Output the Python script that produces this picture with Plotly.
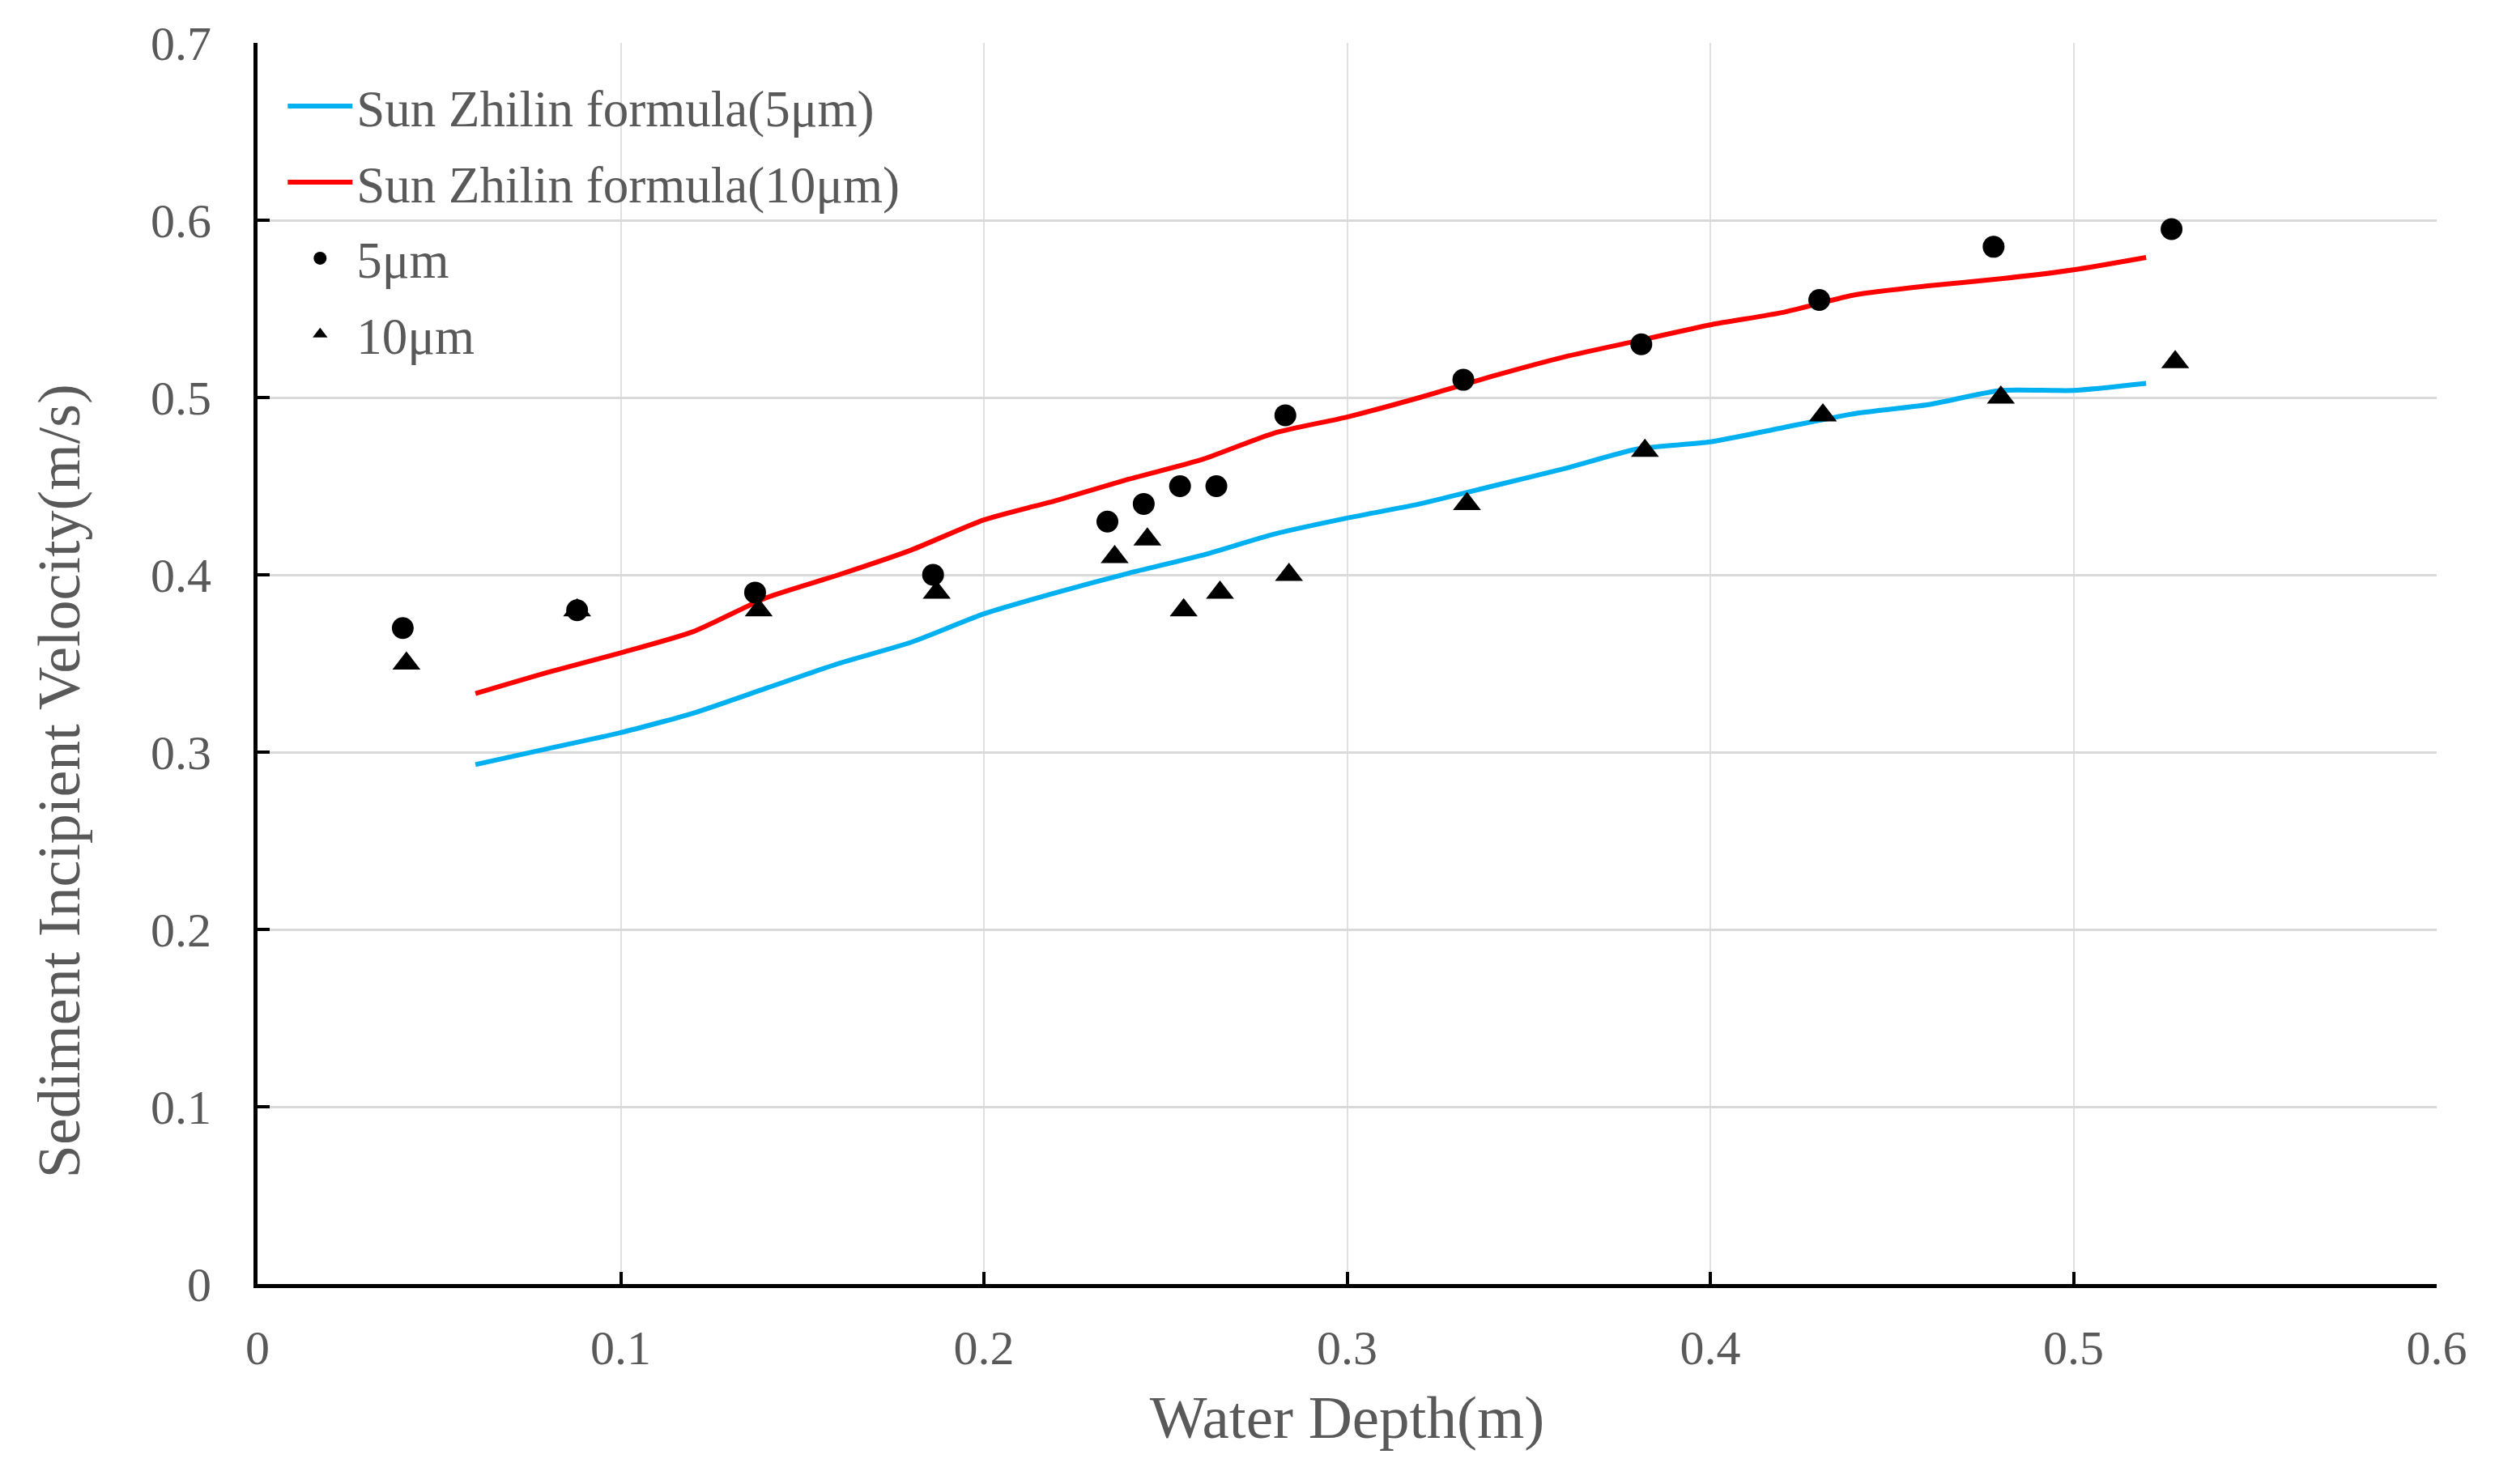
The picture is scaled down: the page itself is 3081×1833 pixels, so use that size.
import plotly.graph_objects as go

# formula curves (Sun Zhilin)
depth_line = [0.06, 0.08, 0.10, 0.12, 0.14, 0.16, 0.18, 0.20, 0.22, 0.24, 0.26, 0.28,
              0.30, 0.32, 0.34, 0.36, 0.38, 0.40, 0.42, 0.44, 0.46, 0.48, 0.50, 0.52]
v_5um_line = [0.293, 0.302, 0.311, 0.322, 0.336, 0.350, 0.362, 0.378, 0.390, 0.401, 0.411, 0.423,
              0.432, 0.440, 0.450, 0.460, 0.471, 0.475, 0.483, 0.491, 0.496, 0.504, 0.504, 0.508]
v_10um_line = [0.333, 0.345, 0.356, 0.368, 0.387, 0.400, 0.414, 0.431, 0.442, 0.454, 0.465, 0.480,
               0.489, 0.500, 0.512, 0.523, 0.532, 0.541, 0.548, 0.558, 0.563, 0.567, 0.572, 0.579]

# measured points
depth_5um = [0.040, 0.088, 0.137, 0.186, 0.234, 0.244, 0.254, 0.264, 0.283, 0.332, 0.381, 0.430, 0.478, 0.527]
v_5um = [0.37, 0.38, 0.39, 0.40, 0.43, 0.44, 0.45, 0.45, 0.49, 0.51, 0.53, 0.555, 0.585, 0.595]
depth_10um = [0.041, 0.088, 0.138, 0.187, 0.236, 0.245, 0.255, 0.265, 0.284, 0.333, 0.382, 0.431, 0.480, 0.528]
v_10um = [0.35, 0.38, 0.38, 0.39, 0.41, 0.42, 0.38, 0.39, 0.40, 0.44, 0.47, 0.49, 0.50, 0.52]

font_name = "Liberation Serif"
grey = "#595959"

fig = go.Figure()
fig.add_trace(go.Scatter(x=depth_line, y=v_5um_line, mode="lines", name="Sun Zhilin formula(5μm)",
                         legendgroup="a",
                         line=dict(color="#00B0F0", width=6, shape="spline", smoothing=0.6)))
fig.add_trace(go.Scatter(x=depth_line, y=v_10um_line, mode="lines", name="Sun Zhilin formula(10μm)",
                         legendgroup="b",
                         line=dict(color="#FF0000", width=6, shape="spline", smoothing=0.6)))
fig.add_trace(go.Scatter(x=depth_5um, y=v_5um, mode="markers", name="5μm", legendgroup="c",
                         marker=dict(symbol="circle", size=27, color="black")))
fig.add_trace(go.Scatter(x=depth_10um, y=v_10um, mode="markers", name="10μm", legendgroup="d",
                         marker=dict(symbol="triangle-up", size=30, color="black")))

fig.update_layout(
    width=3081, height=1833,
    margin=dict(l=310, r=80, t=45, b=255),
    plot_bgcolor="white", paper_bgcolor="white",
    font=dict(family=font_name, color=grey, size=60),
    legend=dict(x=0.012, y=0.98, xanchor="left", yanchor="top", tracegroupgap=9,
                itemwidth=80, font=dict(size=63, color=grey), bgcolor="rgba(0,0,0,0)"),
    annotations=[dict(text="Sediment Incipient Velocity(m/s)", textangle=-90,
                      xref="paper", yref="paper", x=-0.091, y=0.405,
                      xanchor="center", yanchor="middle", showarrow=False,
                      font=dict(size=74, color=grey))],
)
fig.update_xaxes(
    range=[0, 0.6], dtick=0.1, tickformat="~g",
    showline=True, linecolor="black", linewidth=5,
    ticks="inside", ticklen=15, tickwidth=4, tickcolor="black",
    showgrid=True, gridcolor="#e0e0e0", gridwidth=2, zeroline=False,
    tickfont=dict(size=60, color=grey), ticklabelstandoff=22,
    title=dict(text="Water Depth(m)", font=dict(size=75, color=grey), standoff=28),
)
fig.update_yaxes(
    range=[0, 0.7], dtick=0.1, tickformat="~g",
    showline=True, linecolor="black", linewidth=5,
    ticks="inside", ticklen=15, tickwidth=4, tickcolor="black",
    showgrid=True, gridcolor="#d9d9d9", gridwidth=3, zeroline=False,
    tickfont=dict(size=60, color=grey), ticklabelstandoff=40,
)

fig.write_html("out.html")
